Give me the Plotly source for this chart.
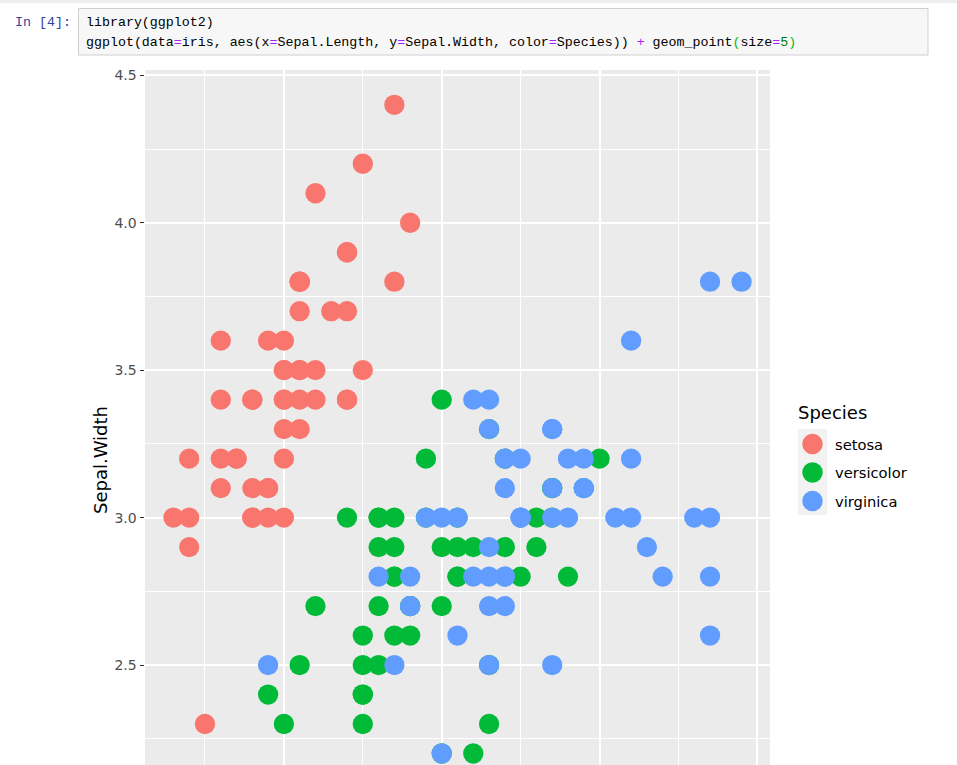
import plotly.graph_objects as go

# ---- data (iris: Sepal.Length / Sepal.Width by species) ----
species = ["setosa", "versicolor", "virginica"]
colors = ["#F8766D", "#00BA38", "#619CFF"]

setosa_len = [5.1, 4.9, 4.7, 4.6, 5.0, 5.4, 4.6, 5.0, 4.4, 4.9, 5.4, 4.8, 4.8, 4.3, 5.8, 5.7, 5.4, 5.1, 5.7, 5.1,
              5.4, 5.1, 4.6, 5.1, 4.8, 5.0, 5.0, 5.2, 5.2, 4.7, 4.8, 5.4, 5.2, 5.5, 4.9, 5.0, 5.5, 4.9, 4.4, 5.1,
              5.0, 4.5, 4.4, 5.0, 5.1, 4.8, 5.1, 4.6, 5.3, 5.0]
setosa_wid = [3.5, 3.0, 3.2, 3.1, 3.6, 3.9, 3.4, 3.4, 2.9, 3.1, 3.7, 3.4, 3.0, 3.0, 4.0, 4.4, 3.9, 3.5, 3.8, 3.8,
              3.4, 3.7, 3.6, 3.3, 3.4, 3.0, 3.4, 3.5, 3.4, 3.2, 3.1, 3.4, 4.1, 4.2, 3.1, 3.2, 3.5, 3.6, 3.0, 3.4,
              3.5, 2.3, 3.2, 3.5, 3.8, 3.0, 3.8, 3.2, 3.7, 3.3]
versicolor_len = [7.0, 6.4, 6.9, 5.5, 6.5, 5.7, 6.3, 4.9, 6.6, 5.2, 5.0, 5.9, 6.0, 6.1, 5.6, 6.7, 5.6, 5.8, 6.2, 5.6,
                  5.9, 6.1, 6.3, 6.1, 6.4, 6.6, 6.8, 6.7, 6.0, 5.7, 5.5, 5.5, 5.8, 6.0, 5.4, 6.0, 6.7, 6.3, 5.6, 5.5,
                  5.5, 6.1, 5.8, 5.0, 5.6, 5.7, 5.7, 6.2, 5.1, 5.7]
versicolor_wid = [3.2, 3.2, 3.1, 2.3, 2.8, 2.8, 3.3, 2.4, 2.9, 2.7, 2.0, 3.0, 2.2, 2.9, 2.9, 3.1, 3.0, 2.7, 2.2, 2.5,
                  3.2, 2.8, 2.5, 2.8, 2.9, 3.0, 2.8, 3.0, 2.9, 2.6, 2.4, 2.4, 2.7, 2.7, 3.0, 3.4, 3.1, 2.3, 3.0, 2.5,
                  2.6, 3.0, 2.6, 2.3, 2.7, 3.0, 2.9, 2.9, 2.5, 2.8]
virginica_len = [6.3, 5.8, 7.1, 6.3, 6.5, 7.6, 4.9, 7.3, 6.7, 7.2, 6.5, 6.4, 6.8, 5.7, 5.8, 6.4, 6.5, 7.7, 7.7, 6.0,
                 6.9, 5.6, 7.7, 6.3, 6.7, 7.2, 6.2, 6.1, 6.4, 7.2, 7.4, 7.9, 6.4, 6.3, 6.1, 7.7, 6.3, 6.4, 6.0, 6.9,
                 6.7, 6.9, 5.8, 6.8, 6.7, 6.7, 6.3, 6.5, 6.2, 5.9]
virginica_wid = [3.3, 2.7, 3.0, 2.9, 3.0, 3.0, 2.5, 2.9, 2.5, 3.6, 3.2, 2.7, 3.0, 2.5, 2.8, 3.2, 3.0, 3.8, 2.6, 2.2,
                 3.2, 2.8, 2.8, 2.7, 3.3, 3.2, 2.8, 3.0, 2.8, 3.0, 2.8, 3.8, 2.8, 2.8, 2.6, 3.0, 3.4, 3.1, 3.0, 3.1,
                 3.1, 3.1, 2.7, 3.2, 3.3, 3.0, 2.5, 3.0, 3.4, 3.0]

y_tick_vals = [2.5, 3.0, 3.5, 4.0, 4.5]
y_tick_text = ["2.5", "3.0", "3.5", "4.0", "4.5"]
y_title = "Sepal.Width"
legend_title = "Species"

code_line1 = "library(ggplot2)"
code_line2 = ('ggplot(data<span style="color:#AA22FF">=</span>iris, aes(x<span style="color:#AA22FF">=</span>Sepal.Length, '
              'y<span style="color:#AA22FF">=</span>Sepal.Width, color<span style="color:#AA22FF">=</span>Species)) '
              '<span style="color:#AA22FF">+</span> geom_point<span style="color:#0B0">(</span>size'
              '<span style="color:#AA22FF">=</span><span style="color:#008000">5</span><span style="color:#0B0">)</span>')
prompt = "In [4]:"

# ---- layout geometry (pixels) ----
W, H = 957, 765
L, R, T, B = 145, 770, 70, 765
PW, PH = R - L, B - T


def px_x(p):
    return (p - L) / PW


def px_y(p):
    return (B - p) / PH


FONT = "DejaVu Sans"
MONO = "Liberation Mono, Courier New, Cousine, monospace"

fig = go.Figure()
series = [(setosa_len, setosa_wid), (versicolor_len, versicolor_wid), (virginica_len, virginica_wid)]
for name, col, (xs, ys) in zip(species, colors, series):
    fig.add_trace(go.Scatter(
        x=xs, y=ys, mode="markers", name=name, showlegend=False,
        marker=dict(color=col, size=20.3, line=dict(width=0)),
    ))

fig.update_layout(
    width=W, height=H,
    margin=dict(l=L, r=W - R, t=T, b=0, autoexpand=False),
    paper_bgcolor="white",
    plot_bgcolor="#EBEBEB",
    font=dict(family=FONT, color="#000000"),
    xaxis=dict(
        range=[4.12, 8.08], showticklabels=False, ticks="",
        tickvals=[5, 6, 7, 8],
        showgrid=True, gridcolor="white", gridwidth=1.9,
        minor=dict(tickvals=[4.5, 5.5, 6.5, 7.5], showgrid=True, gridcolor="white", gridwidth=0.95, ticks=""),
        zeroline=False, showline=False, automargin=False,
    ),
    yaxis=dict(
        range=[2.161, 4.518],
        tickvals=y_tick_vals, ticktext=y_tick_text,
        ticks="outside", ticklen=4.5, tickwidth=1.1, tickcolor="#333333",
        tickfont=dict(size=14, family=FONT, color="#4D4D4D"),
        showgrid=True, gridcolor="white", gridwidth=1.9,
        minor=dict(tickvals=[2.25, 2.75, 3.25, 3.75, 4.25], showgrid=True, gridcolor="white", gridwidth=0.95, ticks=""),
        zeroline=False, showline=False, automargin=False,
    ),
)

shapes = [
    # thin top strip of notebook
    dict(type="rect", xref="paper", yref="paper", x0=px_x(0), x1=px_x(957), y0=px_y(3), y1=px_y(0),
         fillcolor="#EEEEEE", line=dict(width=0), layer="below"),
    # code cell box
    dict(type="rect", xref="paper", yref="paper", x0=px_x(78.5), x1=px_x(928), y0=px_y(55), y1=px_y(8.5),
         fillcolor="#F7F7F7", line=dict(color="#CFCFCF", width=1), layer="below"),
    # legend key background
    dict(type="rect", xref="paper", yref="paper", x0=px_x(798), x1=px_x(827), y0=px_y(515), y1=px_y(429),
         fillcolor="#F2F2F2", line=dict(width=0), layer="below"),
]

annotations = [
    dict(text=prompt, xref="paper", yref="paper", x=px_x(73), y=px_y(23), xanchor="right", yanchor="middle",
         showarrow=False, font=dict(family=MONO, size=13.3, color="#303F9F")),
    dict(text=code_line1, xref="paper", yref="paper", x=px_x(84), y=px_y(23), xanchor="left", yanchor="middle",
         showarrow=False, font=dict(family=MONO, size=13.3, color="#000000")),
    dict(text=code_line2, xref="paper", yref="paper", x=px_x(84), y=px_y(42), xanchor="left", yanchor="middle",
         showarrow=False, font=dict(family=MONO, size=13.3, color="#000000")),
    dict(text=y_title, xref="paper", yref="paper", x=px_x(100), y=px_y(460), xanchor="center",
         yanchor="middle", textangle=-90, showarrow=False, font=dict(family=FONT, size=18, color="black")),
    dict(text=legend_title, xref="paper", yref="paper", x=px_x(796), y=px_y(412), xanchor="left",
         yanchor="middle", showarrow=False, font=dict(family=FONT, size=18, color="black")),
]

# manual ggplot-style legend
key_y = [444, 472.5, 501]
for name, col, ky in zip(species, colors, key_y):
    r = 10.25
    shapes.append(dict(type="circle", xref="paper", yref="paper",
                       x0=px_x(812.5 - r), x1=px_x(812.5 + r), y0=px_y(ky + r), y1=px_y(ky - r),
                       fillcolor=col, line=dict(width=0), layer="above"))
    annotations.append(dict(text=name, xref="paper", yref="paper", x=px_x(833), y=px_y(ky),
                            xanchor="left", yanchor="middle", showarrow=False,
                            font=dict(family=FONT, size=14.7, color="black")))

fig.update_layout(shapes=shapes, annotations=annotations)

fig.write_html("out.html")
